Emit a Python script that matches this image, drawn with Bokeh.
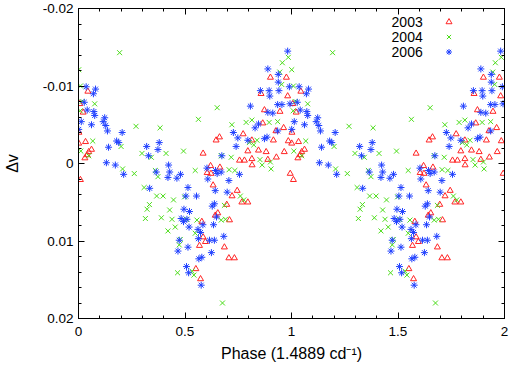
import numpy as np
from bokeh.plotting import figure
from bokeh.models import (Range1d, FixedTicker, LinearAxis, Label, Legend,
                          LegendItem, CustomJSTickFormatter)
from bokeh.core.properties import value
from bokeh.embed import file_html
from bokeh.resources import INLINE

# ---- data (phase in [0,1), shown twice: phase and phase+1) ----
phase_2003 = [0.044, 0.022, 0.001, 0.033, 0.061, 0.048, 0.041, 0.030, 0.009, 0.632,
              0.745, 0.721, 0.696, 0.767, 0.795, 0.654, 0.642, 0.709, 0.579, 0.585,
              0.596, 0.568, 0.685, 0.706, 0.732, 0.551, 0.573, 0.604, 0.901, 0.976,
              0.857, 0.982, 0.873, 0.946, 0.865, 0.963, 0.927, 0.773, 0.662, 0.646,
              0.814, 0.915, 0.985, 0.795, 0.845, 0.881, 0.966, 0.585, 0.779, 0.814,
              0.756, 0.889, 0.929, 0.815, 0.620, 0.664, 0.622, 0.994, 0.006, 0.002]
dv_2003 = [-0.0093, -0.0066, -0.0026, -0.0028, -0.0018, -0.0015, -0.0011, -0.0007, 0.0021, 0.0028,
           0.0035, 0.0042, 0.0053, 0.0050, 0.0050, 0.0064, 0.0067, 0.0073, 0.0075, 0.0095,
           0.0101, 0.0106, 0.0108, 0.0122, 0.0122, 0.0136, 0.0149, 0.0012, -0.0111, -0.0111,
           -0.0090, -0.0087, -0.0069, -0.0067, -0.0052, -0.0046, -0.0042, -0.0038, -0.0034, -0.0030,
           -0.0030, -0.0030, -0.0029, -0.0016, -0.0017, -0.0015, -0.0015, -0.0013, -0.0004, -0.0006,
           -0.0004, -0.0005, -0.0008, 0.0002, 0.0003, 0.0005, 0.0013, 0.0013, -0.0077, -0.0040]

phase_2004 = [0.193, 0.001, 0.009, 0.076, 0.017, 0.270, 0.383, 0.067, 0.200, 0.011,
              0.048, 0.298, 0.342, 0.411, 0.493, 0.207, 0.262, 0.361, 0.373, 0.308,
              0.367, 0.397, 0.446, 0.333, 0.322, 0.428, 0.314, 0.389, 0.439, 0.454,
              0.420, 0.478, 0.473, 0.465, 0.498, 0.685, 0.760, 0.776, 0.670, 0.690,
              0.556, 0.548, 0.506, 0.533, 0.542, 0.676, 0.985, 0.957, 0.945, 0.954,
              0.651, 0.563, 0.720, 0.787, 0.814, 0.895, 0.935, 0.008, 0.838, 0.802,
              0.823, 0.670, 0.717, 0.852, 0.901, 0.548, 0.707, 0.734, 0.862, 0.904]
dv_2004 = [-0.0143, -0.0121, -0.0100, -0.0077, -0.0080, -0.0048, -0.0046, -0.0029, -0.0022, -0.0016,
           -0.0010, -0.0013, -0.0008, -0.0013, -0.0016, 0.0007, 0.0013, 0.0009, 0.0017, 0.0031,
           0.0042, 0.0042, 0.0047, 0.0053, 0.0059, 0.0060, 0.0071, 0.0070, 0.0072, 0.0082,
           0.0087, 0.0098, 0.0105, 0.0141, 0.0043, 0.0054, 0.0042, 0.0047, 0.0073, 0.0072,
           0.0073, 0.0090, 0.0072, 0.0139, 0.0144, 0.0180, -0.0137, -0.0130, -0.0118, -0.0102,
           -0.0072, -0.0057, -0.0050, -0.0053, -0.0056, -0.0053, -0.0054, -0.0068, -0.0030, -0.0027,
           -0.0024, -0.0010, -0.0008, -0.0005, -0.0002, 0.0009, 0.0008, 0.0009, 0.0002, 0.0007]

phase_2006 = [0.036, 0.080, 0.070, 0.027, 0.041, 0.072, 0.076, 0.123, 0.013, 0.116,
              0.061, 0.128, 0.136, 0.001, 0.205, 0.179, 0.189, 0.141, 0.320, 0.379,
              0.373, 0.329, 0.131, 0.173, 0.423, 0.365, 0.428, 0.479, 0.212, 0.334,
              0.420, 0.462, 0.473, 0.467, 0.482, 0.493, 0.495, 0.514, 0.554, 0.504,
              0.642, 0.698, 0.607, 0.706, 0.638, 0.628, 0.521, 0.509, 0.584, 0.634,
              0.519, 0.573, 0.561, 0.648, 0.682, 0.563, 0.615, 0.638, 0.514, 0.624,
              0.579, 0.565, 0.507, 0.517, 0.576, 0.756, 0.651, 0.982, 0.889, 0.938,
              0.938, 0.990, 0.854, 0.895, 0.941, 0.898, 0.807, 0.935, 0.955, 0.993,
              0.889, 0.912, 0.845, 0.829, 0.727, 0.935, 0.885, 0.748, 0.795, 0.873,
              0.740, 0.673, 0.603, 0.643, 0.670]
dv_2006 = [-0.0099, -0.0096, -0.0090, -0.0079, -0.0069, -0.0067, -0.0062, -0.0059, -0.0054, -0.0054,
           -0.0050, -0.0049, -0.0042, -0.0044, -0.0040, -0.0029, -0.0027, -0.0021, -0.0022, -0.0027,
           -0.0018, -0.0010, -0.0001, 0.0002, 0.0002, 0.0011, 0.0011, 0.0014, 0.0014, 0.0032,
           0.0018, 0.0019, 0.0099, 0.0113, 0.0071, 0.0075, 0.0059, 0.0031, 0.0042, 0.0042,
           0.0035, 0.0037, 0.0020, 0.0022, 0.0052, 0.0055, 0.0062, 0.0072, 0.0079, 0.0079,
           0.0082, 0.0089, 0.0085, 0.0069, 0.0094, 0.0097, 0.0099, 0.0099, 0.0108, 0.0115,
           0.0121, 0.0123, 0.0133, 0.0141, 0.0157, 0.0014, 0.0013, -0.0145, -0.0122, -0.0115,
           -0.0105, -0.0099, -0.0094, -0.0094, -0.0094, -0.0087, -0.0074, -0.0076, -0.0076, -0.0077,
           -0.0066, -0.0065, -0.0051, -0.0046, -0.0040, -0.0042, -0.0034, -0.0033, -0.0030, -0.0032,
           -0.0022, -0.0010, 0.0006, 0.0009, 0.0011]

series_labels = ["2003", "2004", "2006"]
x_major = [0, 0.5, 1, 1.5, 2]
x_minor = [i / 10 for i in range(21)]
y_major = [-0.02, -0.01, 0, 0.01, 0.02]
y_minor = [(-20 + 2 * i) / 1000 for i in range(21)]

FONT = "Liberation Sans"
RED, GREEN, BLUE = "#ff2424", "#4cdd1a", "#2040ff"

p = figure(width=509, height=367, output_backend="svg", toolbar_location=None,
           x_range=Range1d(0, 2), y_range=Range1d(0.02, -0.02),
           min_border_left=77, min_border_right=5, min_border_top=8, min_border_bottom=49,
           background_fill_color="white", border_fill_color="white")
p.xgrid.visible = False
p.ygrid.visible = False
p.outline_line_color = "black"
p.outline_line_width = 1

fmt = CustomJSTickFormatter(code="return String(Math.round(tick*1000)/1000);")
blank = CustomJSTickFormatter(code="return '';")


def style_axis(ax, labels=True):
    ax.axis_line_color = "black"
    ax.major_tick_line_color = "black"
    ax.minor_tick_line_color = "black"
    ax.major_tick_in = 6
    ax.major_tick_out = 0
    ax.minor_tick_in = 3
    ax.minor_tick_out = 0
    ax.major_label_text_font = FONT
    ax.major_label_text_font_size = "13.5px" if labels else "0px"
    ax.major_label_text_color = "black"
    ax.axis_label_text_font = FONT
    ax.axis_label_text_font_size = "16px"
    ax.axis_label_text_font_style = "normal"
    ax.axis_label_text_color = "black"


xt = FixedTicker(ticks=x_major, minor_ticks=x_minor)
yt = FixedTicker(ticks=y_major, minor_ticks=y_minor)

xa = p.xaxis[0]
xa.ticker = xt
xa.formatter = fmt
style_axis(xa)
xa.major_label_standoff = 8
xa.axis_label = "Phase (1.4889 cd\u207b\u00b9)"
xa.axis_label_standoff = 6

ya = p.yaxis[0]
ya.ticker = yt
ya.formatter = fmt
style_axis(ya)
ya.major_label_standoff = 5
ya.axis_label = "\u0394v"
ya.axis_label_standoff = 19

top = LinearAxis(ticker=xt, formatter=blank, major_label_standoff=0)
style_axis(top, labels=False)
p.add_layout(top, "above")
right = LinearAxis(ticker=yt, formatter=blank, major_label_standoff=0)
style_axis(right, labels=False)
p.add_layout(right, "right")

r03 = p.scatter(np.concatenate([phase_2003, np.add(phase_2003, 1)]), np.concatenate([dv_2003, dv_2003]),
                marker="triangle", size=6, fill_alpha=0, line_color=RED, line_width=1)
r04 = p.scatter(np.concatenate([phase_2004, np.add(phase_2004, 1)]), np.concatenate([dv_2004, dv_2004]),
                marker="x", size=7, line_color=GREEN, line_width=1)
r06 = p.scatter(np.concatenate([phase_2006, np.add(phase_2006, 1)]), np.concatenate([dv_2006, dv_2006]),
                marker="asterisk", size=7, line_color=BLUE, line_width=1)

# legend: right-aligned texts, symbols to their right
legend = Legend(items=[LegendItem(label=value(""), renderers=[r]) for r in (r03, r04, r06)],
                location=(363, 259), orientation="vertical",
                glyph_width=15, glyph_height=15, label_width=0, label_height=15,
                label_standoff=0, spacing=0, padding=0, margin=0,
                label_text_font_size="10px",
                border_line_alpha=0, background_fill_alpha=0)
p.add_layout(legend, "center")

for i, lab in enumerate(series_labels):
    p.add_layout(Label(x=1.616, y=-0.0183 + 0.00194 * i, text=lab, text_align="right",
                       text_baseline="middle", text_font=FONT, text_font_size="14px",
                       text_color="black"))

open("out.html", "w").write(file_html(p, INLINE))
